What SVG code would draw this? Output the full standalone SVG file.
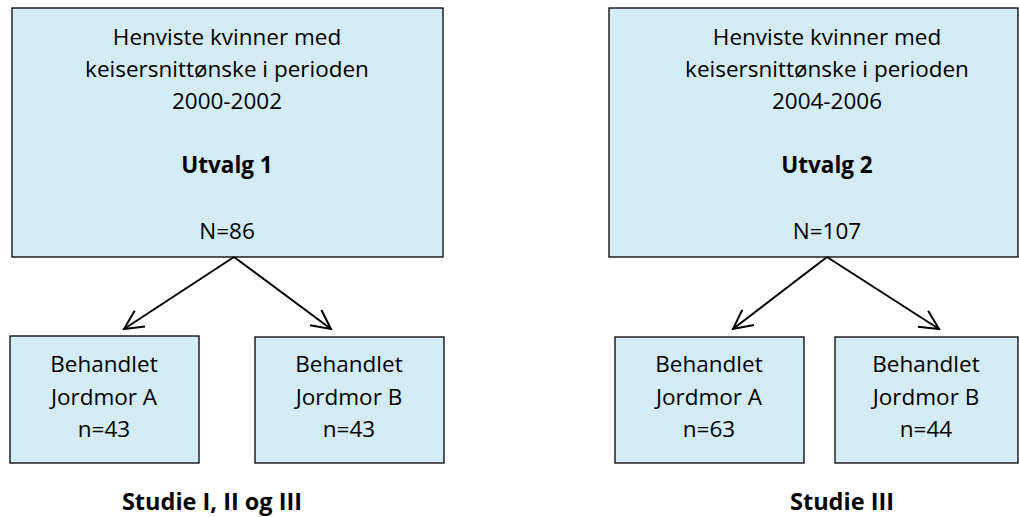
<svg xmlns="http://www.w3.org/2000/svg" width="1019" height="517" viewBox="0 0 1019 517">
  <defs>
    <marker id="vhead" viewBox="0 0 24 24" refX="21" refY="12" markerWidth="24" markerHeight="24" markerUnits="userSpaceOnUse" orient="auto">
      <path d="M2,2.5 L21,12 L2,21.5" fill="none" stroke="#000" stroke-width="2"/>
    </marker>
  </defs>
  <style>
    .box { fill: #d3ebf2; stroke: #000; stroke-width: 1.3; }
    .t { font-family: "Open Sans", "Liberation Sans", sans-serif; font-size: 22.5px; fill: #000; text-anchor: middle; }
    .b { font-weight: bold; }
    .cap { font-size: 23.5px; }
    .conn { stroke: #000; stroke-width: 2; fill: none; marker-end: url(#vhead); }
  </style>
  <rect width="1019" height="517" fill="#fff"/>

  <g id="utvalg1">
    <rect class="box" x="12" y="8" width="431" height="249"/>
    <text class="t" x="227" y="45">Henviste kvinner med</text>
    <text class="t" x="227" y="77">keisersnittønske i perioden</text>
    <text class="t" x="227" y="109">2000-2002</text>
    <text class="t b" x="227" y="173">Utvalg 1</text>
    <text class="t" x="227" y="239">N=86</text>
  </g>

  <g id="utvalg2">
    <rect class="box" x="609" y="8" width="409" height="249"/>
    <text class="t" x="827" y="45">Henviste kvinner med</text>
    <text class="t" x="827" y="77">keisersnittønske i perioden</text>
    <text class="t" x="827" y="109">2004-2006</text>
    <text class="t b" x="827" y="173">Utvalg 2</text>
    <text class="t" x="827" y="239">N=107</text>
  </g>

  <g id="u1-jordmorA">
    <rect class="box" x="10" y="336" width="189" height="127"/>
    <text class="t" x="104" y="372">Behandlet</text>
    <text class="t" x="104" y="405">Jordmor A</text>
    <text class="t" x="104" y="437">n=43</text>
  </g>

  <g id="u1-jordmorB">
    <rect class="box" x="255" y="337" width="189" height="126"/>
    <text class="t" x="349" y="372">Behandlet</text>
    <text class="t" x="349" y="405">Jordmor B</text>
    <text class="t" x="349" y="437">n=43</text>
  </g>

  <g id="u2-jordmorA">
    <rect class="box" x="615" y="337" width="189" height="126"/>
    <text class="t" x="709" y="372">Behandlet</text>
    <text class="t" x="709" y="405">Jordmor A</text>
    <text class="t" x="709" y="437">n=63</text>
  </g>

  <g id="u2-jordmorB">
    <rect class="box" x="835" y="337" width="183" height="126"/>
    <text class="t" x="926" y="372">Behandlet</text>
    <text class="t" x="926" y="405">Jordmor B</text>
    <text class="t" x="926" y="437">n=44</text>
  </g>

  <g id="captions">
    <text class="t b cap" x="212" y="510">Studie I, II og III</text>
    <text class="t b cap" x="842" y="510">Studie III</text>
  </g>

  <g id="connectors">
    <line class="conn" x1="234" y1="257" x2="124" y2="329"/>
    <line class="conn" x1="234" y1="257" x2="331" y2="329"/>
    <line class="conn" x1="827" y1="257" x2="733" y2="329"/>
    <line class="conn" x1="827" y1="257" x2="939" y2="329"/>
  </g>
</svg>
